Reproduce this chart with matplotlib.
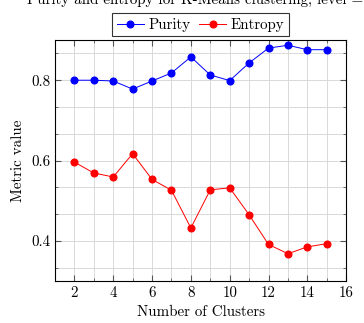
import numpy as np
import matplotlib
matplotlib.use("Agg")
import matplotlib.pyplot as plt
from matplotlib.ticker import MultipleLocator

plt.rcParams['font.family'] = 'serif'
plt.rcParams['font.serif'] = ['cmr10']
plt.rcParams['mathtext.fontset'] = 'cm'
plt.rcParams['axes.formatter.use_mathtext'] = True

# values
clusters = [2, 3, 4, 5, 6, 7, 8, 9, 10, 11, 12, 13, 14, 15]
purity = [0.800, 0.800, 0.798, 0.778, 0.798, 0.818, 0.858, 0.813, 0.799,
          0.843, 0.880, 0.887, 0.876, 0.876]
entropy = [0.596, 0.569, 0.559, 0.617, 0.553, 0.526, 0.432, 0.527, 0.532,
           0.465, 0.391, 0.368, 0.385, 0.393]
xTicks = [2, 4, 6, 8, 10, 12, 14, 16]
yTicks = [0.4, 0.6, 0.8]

titleText = "Purity and entropy for K-Means clustering, level = 1"
fs = 10.8

fig = plt.figure(figsize=(3.64, 3.23), dpi=100)
ax = fig.add_axes([0.151, 0.130, 0.800, 0.746])

ax.plot(clusters, purity, color='blue', marker='o', markersize=4.8, lw=0.7, label='Purity')
ax.plot(clusters, entropy, color='red', marker='o', markersize=4.8, lw=0.7, label='Entropy')

ax.set_xlim(1, 16)
ax.set_ylim(0.3, 0.9)
ax.xaxis.set_minor_locator(MultipleLocator(1))
ax.yaxis.set_minor_locator(MultipleLocator(0.2 / 3))
ax.grid(True, which='both', color='#d9d9d9', lw=0.7)
ax.set_axisbelow(True)
ax.tick_params(which='both', direction='in', top=True, right=True, labelsize=fs, color='#555555')
ax.tick_params(which='major', length=4)
ax.tick_params(which='minor', length=2.5)
ax.set_xticks(xTicks)
ax.set_xticklabels([str(v) for v in xTicks])
ax.set_yticks(yTicks)
ax.set_yticklabels(['%.1f' % v for v in yTicks])
for s in ax.spines.values():
    s.set_linewidth(0.8)

ax.set_xlabel("Number of Clusters", fontsize=fs)
ax.set_ylabel("Metric value", fontsize=fs)

leg = ax.legend(loc='lower center', bbox_to_anchor=(0.5, 1.015), ncol=2, fontsize=fs,
                frameon=True, fancybox=False, edgecolor='black', handlelength=1.8,
                handletextpad=0.3, columnspacing=0.6, borderpad=0.3, borderaxespad=0)
leg.get_frame().set_linewidth(0.8)

fig.text(0.552, 1.0, titleText, ha='center', va='center', fontsize=fs)

fig.savefig("out.png", dpi=100)
